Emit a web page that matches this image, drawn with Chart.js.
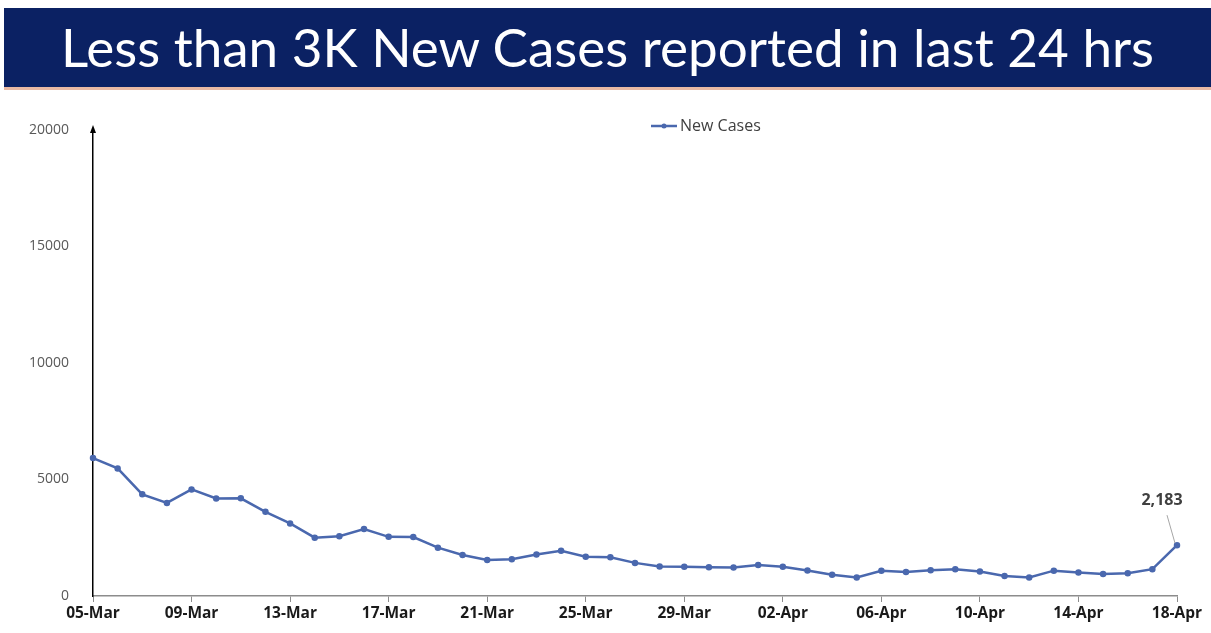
<!DOCTYPE html>
<html>
<head>
<meta charset="utf-8">
<script src="https://cdn.jsdelivr.net/npm/chart.js@4.4.0/dist/chart.umd.min.js"></script>
<style>
  body { margin: 0; background: #fff; width: 1211px; height: 633px; overflow: hidden; position: relative; }
  #banner {
    position: absolute; left: 4px; top: 8px; width: 1207px; height: 79px;
    background: #0b2163; color: #fff;
    font-family: Lato, "Open Sans", sans-serif; font-size: 53px;
    display: flex; align-items: center; justify-content: center;
    padding-bottom: 2px; box-sizing: border-box;
  }
  #rule { position: absolute; left: 4px; top: 87px; width: 1207px; height: 3px; background: #e9b9a4; }
  #wrap { position: absolute; left: 0; top: 95px; width: 1211px; height: 538px; }
</style>
</head>
<body>
<div id="banner">Less than 3K New Cases reported in last 24 hrs</div>
<div id="rule"></div>
<div id="wrap"><canvas id="casesChart"></canvas></div>
<script>
const dates = [
  '05-Mar','06-Mar','07-Mar','08-Mar','09-Mar','10-Mar','11-Mar','12-Mar','13-Mar','14-Mar',
  '15-Mar','16-Mar','17-Mar','18-Mar','19-Mar','20-Mar','21-Mar','22-Mar','23-Mar','24-Mar',
  '25-Mar','26-Mar','27-Mar','28-Mar','29-Mar','30-Mar','31-Mar','01-Apr','02-Apr','03-Apr',
  '04-Apr','05-Apr','06-Apr','07-Apr','08-Apr','09-Apr','10-Apr','11-Apr','12-Apr','13-Apr',
  '14-Apr','15-Apr','16-Apr','17-Apr','18-Apr'
];
const newCases = [
  5921, 5476, 4362, 3993, 4575, 4184, 4194, 3614, 3116, 2503,
  2568, 2876, 2539, 2528, 2075, 1761, 1549, 1581, 1778, 1938,
  1685, 1660, 1421, 1270, 1259, 1233, 1225, 1335, 1260, 1096,
  913, 795, 1086, 1033, 1109, 1150, 1054, 861, 796, 1088,
  1007, 949, 975, 1150, 2183
];
const yTicks = [0, 5000, 10000, 15000, 20000];

const lineColor = '#4a68ae';

// arrow on top of y axis, label on last point, legend
const extras = {
  id: 'extras',
  afterDraw(chart) {
    const { ctx, scales } = chart;
    const x0 = scales.x.getPixelForValue(0);
    const yTop = scales.y.getPixelForValue(20000);
    ctx.save();
    ctx.fillStyle = '#000';
    ctx.beginPath();
    ctx.moveTo(x0, yTop - 5);
    ctx.lineTo(x0 - 3, yTop + 3);
    ctx.lineTo(x0 + 3, yTop + 3);
    ctx.closePath();
    ctx.fill();

    // data label on the last point
    const last = newCases.length - 1;
    const px = scales.x.getPixelForValue(last);
    const py = scales.y.getPixelForValue(newCases[last]);
    ctx.strokeStyle = '#a6a6a6';
    ctx.lineWidth = 1;
    ctx.beginPath();
    ctx.moveTo(px - 10, py - 30);
    ctx.lineTo(px - 2, py - 2);
    ctx.stroke();
    ctx.fillStyle = '#404040';
    ctx.font = 'bold 16px "Open Sans", sans-serif';
    ctx.textAlign = 'center';
    ctx.textBaseline = 'middle';
    ctx.fillText(newCases[last].toLocaleString('en-US'), px - 15, py - 45);

    // legend
    const lx = 651, ly = 31;
    ctx.strokeStyle = lineColor;
    ctx.lineWidth = 2.5;
    ctx.beginPath();
    ctx.moveTo(lx, ly);
    ctx.lineTo(lx + 26, ly);
    ctx.stroke();
    ctx.fillStyle = lineColor;
    ctx.beginPath();
    ctx.arc(lx + 13, ly, 2.5, 0, Math.PI * 2);
    ctx.fill();
    ctx.fillStyle = '#404040';
    ctx.font = '16px "Open Sans", sans-serif';
    ctx.textAlign = 'left';
    ctx.fillText('New Cases', lx + 29, ly);
    ctx.restore();
  }
};

const ctx = document.getElementById('casesChart').getContext('2d');
new Chart(ctx, {
  type: 'line',
  data: {
    labels: dates,
    datasets: [{
      label: 'New Cases',
      data: newCases,
      borderColor: lineColor,
      backgroundColor: lineColor,
      borderWidth: 2.5,
      pointRadius: 2,
      pointHoverRadius: 2,
      tension: 0
    }]
  },
  options: {
    responsive: true,
    maintainAspectRatio: false,
    animation: false,
    events: [],
    layout: { padding: { top: 35, right: 34, left: 0, bottom: 0 } },
    plugins: {
      legend: { display: false },
      tooltip: { enabled: false }
    },
    scales: {
      x: {
        offset: false,
        afterFit(s) { s.height = 37; },
        grid: {
          drawOnChartArea: false,
          drawTicks: true,
          tickLength: 6,
          color: c => (c.index % 4 === 0 ? '#8c8c8c' : 'rgba(0,0,0,0)')
        },
        border: { color: '#8c8c8c', width: 1.5 },
        ticks: {
          autoSkip: false,
          maxRotation: 0,
          padding: 2,
          color: '#1a1a1a',
          font: { family: '"Open Sans", sans-serif', size: 15.5, weight: 'bold' },
          callback(v, i) { return i % 4 === 0 ? dates[i] : ''; }
        }
      },
      y: {
        min: 0,
        max: 20000,
        afterFit(s) { s.width = 93; },
        afterBuildTicks(s) { s.ticks = yTicks.map(v => ({ value: v })); },
        grid: { display: false },
        border: { color: '#000', width: 1.5 },
        ticks: {
          padding: 16,
          color: '#595959',
          font: { family: '"Open Sans", sans-serif', size: 14 },
          callback: v => String(v)
        }
      }
    }
  },
  plugins: [extras]
});
</script>
</body>
</html>
